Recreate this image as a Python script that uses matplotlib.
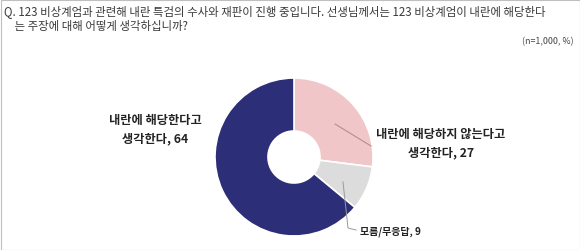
import matplotlib
matplotlib.use("Agg")
import matplotlib.pyplot as plt
from matplotlib.patches import Rectangle

plt.rcParams["font.family"] = ["Noto Sans CJK KR", "DejaVu Sans"]

QUESTION = ("Q. 123 비상계엄과 관련해 내란 특검의 수사와 재판이 진행 중입니다. "
            "선생님께서는 123 비상계엄이 내란에 해당한다\n    는 주장에 대해 어떻게 생각하십니까?")
BASE_NOTE = "(n=1,000, %)"

# clockwise from 12 o'clock
CATEGORIES = ["내란에 해당하지 않는다고\n생각한다", "모름/무응답", "내란에 해당한다고\n생각한다"]
VALUES = [27, 9, 64]
COLORS = ["#f1c6c8", "#dcdcdc", "#2d2e78"]

W, H = 580, 251
fig = plt.figure(figsize=(W / 100, H / 100), dpi=100)
fig.patch.set_facecolor("white")
ax = fig.add_axes([0, 0, 1, 1])


def py(y):
    # pixel row (from top) -> axis y
    return H - y


cx, cy, r = 294, py(158), 79
ax.pie(
    VALUES, colors=COLORS, startangle=90, counterclock=False,
    center=(cx, cy), radius=r,
    wedgeprops=dict(width=r - 26, edgecolor="white", linewidth=1.2),
)
ax.set_xlim(0, W)
ax.set_ylim(0, H)
ax.set_aspect("equal")
ax.axis("off")

ax.add_patch(Rectangle((0.5, 0.5), W - 1, H - 1, fill=False,
                       edgecolor="#bfbfbf", linewidth=0.8))

ax.text(4, py(5), QUESTION, fontsize=8.25, color="#3a3a3a", va="top", ha="left",
        linespacing=1.2)
ax.text(574, py(42), BASE_NOTE, fontsize=6.4, color="#444444", va="center", ha="right")

lbl = dict(fontsize=8.8, fontweight="bold", color="#222222", linespacing=1.55)
ax.text(155, py(130), f"{CATEGORIES[2]}, {VALUES[2]}", ha="center", va="center", **lbl)
ax.text(441, py(144), f"{CATEGORIES[0]}, {VALUES[0]}", ha="center", va="center", **lbl)
ax.text(360, py(232), f"{CATEGORIES[1]}, {VALUES[1]}", ha="left", va="center",
        fontsize=7.2, fontweight="bold", color="#222222")

ax.plot([335, 371], [py(125), py(147)], color="#b0868a", linewidth=0.7)
ax.plot([343, 348, 356], [py(183), py(229), py(231)], color="#999999", linewidth=0.7)

fig.savefig("out.png", dpi=100, facecolor=fig.get_facecolor())
